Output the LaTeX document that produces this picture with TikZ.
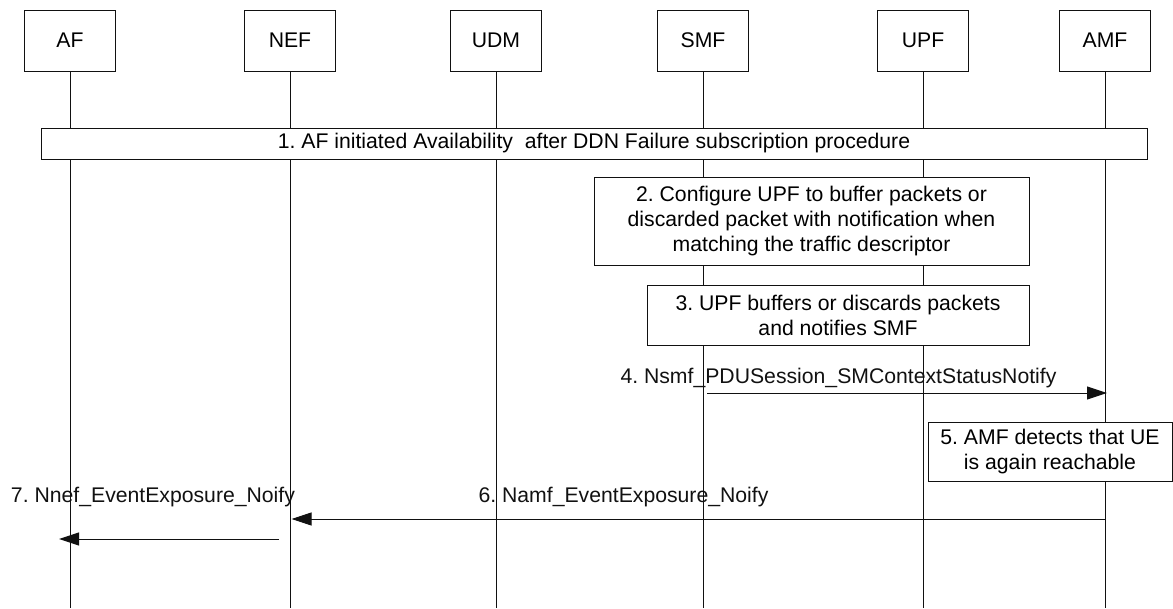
\documentclass[tikz,border=0pt]{standalone}
\usepackage{fontspec}
\setmainfont{Liberation Sans}
\usetikzlibrary{arrows.meta}
\definecolor{INK}{HTML}{111111}
\frenchspacing

\begin{document}
\begin{tikzpicture}[x=1pt,y=-1pt,font=\fontsize{21.2}{25}\selectfont]
\tikzset{nfbox/.style={draw=INK,line width=1pt,fill=white,minimum width=91pt,minimum height=61pt,inner sep=0pt},
 life/.style={INK,line width=1pt},
 stepbox/.style={draw=INK,line width=1pt,fill=white,align=center,inner sep=0pt},
 msg/.style={INK,line width=1pt,-{Triangle[length=20pt,width=13pt]}},
 lbl/.style={anchor=base,inner sep=0pt,text=INK}}
\useasboundingbox (0,0) rectangle (1173,608);
\coordinate (bot) at (0,608);
\foreach \nm/\x/\txt in {af/70/AF,nef/290/NEF,udm/496/UDM,smf/703/SMF,upf/923/UPF,amf/1105/AMF}{
 \node[nfbox] (\nm) at (\x,40.5) {\txt};
 \draw[life] (\nm.south) -- (\nm.south |- bot);}
\node[stepbox,minimum width=1106pt,minimum height=31pt] (s1) at (594,143.5) {1. AF initiated Availability\ \ after DDN Failure subscription procedure};
\node[stepbox,minimum width=435pt,minimum height=88pt] (s2) at (811.5,221) {2. Configure UPF to buffer packets or\\discarded packet with notification when\\matching the traffic descriptor};
\node[stepbox,minimum width=382pt,minimum height=60pt] (s3) at (838,315) {3. UPF buffers or discards packets\\and notifies SMF};
\node[stepbox,minimum width=244pt,minimum height=59pt] (s5) at (1050,451.5) {5. AMF detects that UE\\is again reachable};
\coordinate (y4) at (0,393);
\coordinate (y6) at (0,519);
\coordinate (y7) at (0,539);
\path (smf |- y4) coordinate (m4a) (amf |- y4) coordinate (m4b);
\draw[msg] ([xshift=4pt]m4a) -- ([xshift=2pt]m4b);
\node[lbl] (l4) at (838.5,383) {4. Nsmf\_PDUSession\_SMContextStatusNotify};
\path (amf |- y6) coordinate (m6a) (nef |- y6) coordinate (m6b);
\draw[msg] (m6a) -- ([xshift=1.5pt]m6b);
\node[lbl] (l6) at (623.5,502) {6. Namf\_EventExposure\_Noify};
\coordinate (m7a) at (279,539);
\path (af |- y7) coordinate (m7b);
\draw[msg] (m7a) -- ([xshift=-11pt]m7b);
\node[lbl] (l7) at (153,502) {7. Nnef\_EventExposure\_Noify};
\end{tikzpicture}
\end{document}
